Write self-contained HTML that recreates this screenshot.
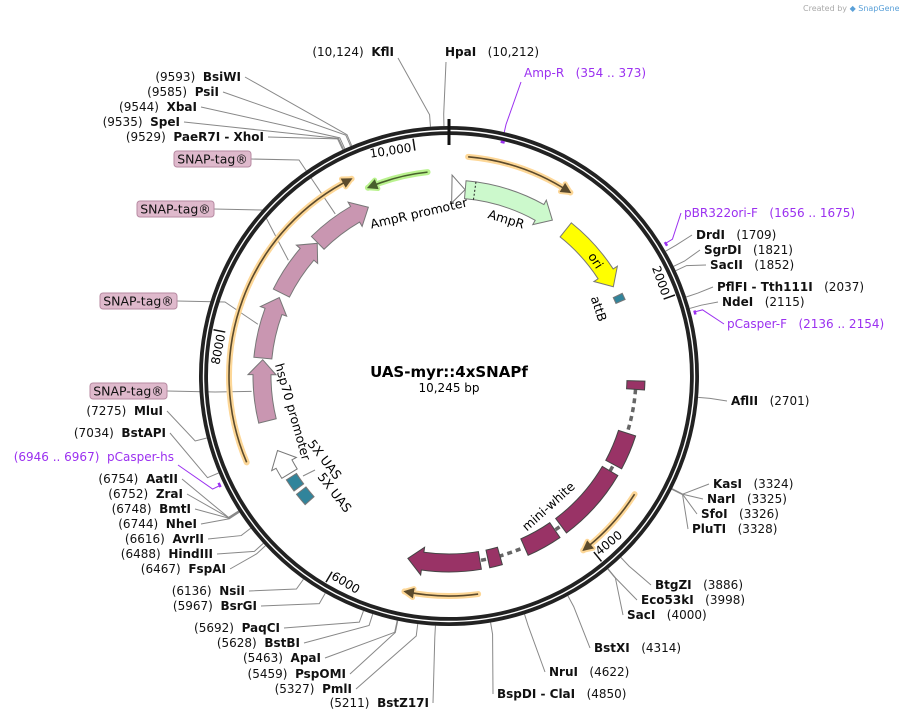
<!DOCTYPE html>
<html><head><meta charset="utf-8">
<style>
html,body{margin:0;padding:0;background:#fff;}
svg{display:block;font-family:"DejaVu Sans","Liberation Sans",sans-serif;}
</style></head>
<body>
<svg id="map" width="899" height="721" viewBox="0 0 899 721" xmlns="http://www.w3.org/2000/svg">
<rect width="899" height="721" fill="#fff"/>
<text x="803" y="11" font-size="8" fill="#aaa">Created by <tspan fill="#5aa0d8">◆ SnapGene</tspan></text>
<g id="lines"></g>
<g id="backbone"></g>
<g id="feats"></g>
<g id="labels"></g>
<text x="449" y="377" text-anchor="middle" font-size="15" font-weight="bold">UAS-myr::4xSNAPf</text>
<text x="449" y="392" text-anchor="middle" font-size="12">10,245 bp</text>
</svg>
<script>
// ---- data ----
const TOTAL = 10245;
const tickPositions = [2000, 4000, 6000, 8000, 10000];
const tickLabels = ["2000", "4000", "6000", "8000", "10,000"];
const featNames = ["AmpR promoter","AmpR","ori","attB","5X UAS a","5X UAS b","hsp70 promoter","SNAP-tag 1","SNAP-tag 2","SNAP-tag 3","SNAP-tag 4","mini-white exon1","mini-white exon2","mini-white exon3","mini-white exon4","mini-white exon5","mini-white exon6"];
const featStart = [25, 142, 1099, 1835, 6643, 6494, 6788, 7288, 7840, 8433, 8976, 2604, 3068, 3430, 4141, 4673, 4852];
const featEnd   = [140, 955, 1750, 1893, 6757, 6608, 7015, 7826, 8390, 8970, 9518, 2678, 3366, 4075, 4445, 4781, 5484];
const featDir   = [1, 1, 1, 0, 0, 0, 1, 1, 1, 1, 1, 0, 0, 0, 0, 0, 1];
const featFill  = ["#ffffff","#ccf9cc","#ffff00","#31849b","#31849b","#31849b","#ffffff","#c996b1","#c996b1","#c996b1","#c996b1","#993366","#993366","#993366","#993366","#993366","#993366"];
const orfStart = [142, 9582, 7026, 3486, 4906];
const orfEnd   = [953, 10074, 9497, 4053, 5455];
const orfDir   = [1, -1, 1, 1, 1];
const orfColor = ["orange","green","orange","orange","orange"];
const enzNames = ["KflI","HpaI","BsiWI","PsiI","XbaI","SpeI","PaeR7I  - XhoI","DrdI","SgrDI","SacII","PflFI  - Tth111I","NdeI","AflII","KasI","NarI","SfoI","PluTI","BtgZI","Eco53kI","SacI","BstXI","NruI","BspDI  - ClaI","BstZ17I","PmlI","PspOMI","ApaI","BstBI","PaqCI","BsrGI","NsiI","FspAI","HindIII","AvrII","NheI","BmtI","ZraI","AatII","BstAPI","MluI"];
const enzPos = [10124,10212,9593,9585,9544,9535,9529,1709,1821,1852,2037,2115,2701,3324,3325,3326,3328,3886,3998,4000,4314,4622,4850,5211,5327,5459,5463,5628,5692,5967,6136,6467,6488,6616,6744,6748,6752,6754,7034,7275];
const primerNames = ["Amp-R","pBR322ori-F","pCasper-F","pCasper-hs"];
const primerStart = [354, 1656, 2136, 6946];
const primerEnd   = [373, 1675, 2154, 6967];

// ---- layout (not data) ----
const enzLayout = {
 "KflI":[394,56,"L"],"HpaI":[445,56,"R"],"BsiWI":[241,81,"L"],"PsiI":[219,96,"L"],"XbaI":[197,111,"L"],"SpeI":[180,126,"L"],"PaeR7I  - XhoI":[264,141,"L"],
 "DrdI":[696,239,"R"],"SgrDI":[704,254,"R"],"SacII":[710,269,"R"],"PflFI  - Tth111I":[717,291,"R"],"NdeI":[722,306,"R"],"AflII":[731,405,"R"],
 "KasI":[713,488,"R"],"NarI":[707,503,"R"],"SfoI":[701,518,"R"],"PluTI":[692,533,"R"],"BtgZI":[655,589,"R"],"Eco53kI":[641,604,"R"],"SacI":[627,619,"R"],
 "BstXI":[594,652,"R"],"NruI":[549,676,"R"],"BspDI  - ClaI":[497,698,"R"],
 "BstZ17I":[429,707,"L"],"PmlI":[352,693,"L"],"PspOMI":[346,678,"L"],"ApaI":[321,662,"L"],"BstBI":[300,647,"L"],"PaqCI":[280,632,"L"],
 "BsrGI":[257,610,"L"],"NsiI":[245,595,"L"],"FspAI":[226,573,"L"],"HindIII":[213,558,"L"],"AvrII":[204,543,"L"],"NheI":[197,528,"L"],"BmtI":[191,513,"L"],
 "ZraI":[183,498,"L"],"AatII":[178,483,"L"],"BstAPI":[166,437,"L"],"MluI":[163,415,"L"]
};
const primerLayout = {"Amp-R":[524,77,"R"],"pBR322ori-F":[684,217,"R"],"pCasper-F":[727,328,"R"],"pCasper-hs":[174,461,"L"]};

const NS="http://www.w3.org/2000/svg";
const CX=449, CY=376;
function ang(bp){return bp/TOTAL*360;}
function P(a,r){const t=a*Math.PI/180;return [CX+r*Math.sin(t), CY-r*Math.cos(t)];}
function f(p){return p[0].toFixed(2)+","+p[1].toFixed(2);}
function fmt(n){return n>=10000?n.toLocaleString('en-US'):String(n);}
function el(tag,attrs,parent){const e=document.createElementNS(NS,tag);for(const k in attrs)e.setAttribute(k,attrs[k]);parent.appendChild(e);return e;}
const gLines=document.getElementById('lines'),gBack=document.getElementById('backbone'),gFeat=document.getElementById('feats'),gLab=document.getElementById('labels');

function arcD(a0,a1,r){const big=(a1-a0)>180?1:0;return "M"+f(P(a0,r))+" A"+r+","+r+" 0 "+big+" 1 "+f(P(a1,r));}

let c1=el('circle',{cx:CX,cy:CY,r:245.5,fill:'none',stroke:'#222','stroke-width':9},gBack);


let c2=el('circle',{cx:CX,cy:CY,r:245.5,fill:'none',stroke:'#fff','stroke-width':1.4},gBack);


let t0=el('line',{x1:CX,y1:CY-257,x2:CX,y2:CY-231,stroke:'#111','stroke-width':3},gBack);



tickPositions.forEach((bp,i)=>{
 const a=ang(bp);const p1=P(a,240),p2=P(a,228);
 const ln=el('line',{x1:p1[0],y1:p1[1],x2:p2[0],y2:p2[1],stroke:'#111','stroke-width':1.5},gBack);
 
 
 const lp=P(a,231);
 const bottom=(a>90&&a<270);
 const rot=bottom?a-180:(a>180?a-360:a);
 const tx=el('text',{x:lp[0],y:lp[1],'font-size':12,'text-anchor':bottom?'start':'end','dominant-baseline':'middle',transform:`rotate(${rot} ${lp[0]} ${lp[1]})`},gBack);
 tx.textContent=tickLabels[i];
 
 
 tx.setAttribute('dx',bottom?'2':'-3');
});

orfStart.forEach((s,i)=>{
 const a0=ang(s),a1=ang(orfEnd[i]);const r=(orfColor[i]==='green')?205:220;
 const halo=orfColor[i]==='green'?'#b9f28e':'#fdd797';
 const core=orfColor[i]==='green'?'#48602c':'#5b4a2c';
 const g=el('g',{},gFeat);
 
 
 el('path',{d:arcD(a0,a1,r),fill:'none',stroke:halo,'stroke-width':6,'stroke-linecap':'round'},g);
 el('path',{d:arcD(a0,a1,r),fill:'none',stroke:core,'stroke-width':1.6},g);
 const tipA=orfDir[i]===1?a1:a0, sgn=orfDir[i]===1?-1:1;
 const hd=9/r*180/Math.PI;
 const tip=P(tipA,r),b1=P(tipA+sgn*hd,r+4.5),b2=P(tipA+sgn*hd,r-4.5);
 el('path',{d:"M"+f(b1)+" L"+f(tip)+" L"+f(b2),fill:'none',stroke:halo,'stroke-width':5,'stroke-linejoin':'round','stroke-linecap':'round'},g);
 el('path',{d:"M"+f(b1)+" L"+f(tip)+" L"+f(b2)+"Z",fill:core,stroke:core,'stroke-width':1},g);
});

function featPath(a0,a1,r,w,dir){
 const ro=r+w/2,ri=r-w/2,h=15/r*180/Math.PI;
 if(dir===1){const ab=Math.max(a0,a1-h);
  return "M"+f(P(a0,ro))+" A"+ro+","+ro+" 0 0 1 "+f(P(ab,ro))+" L"+f(P(ab,ro+5))+" L"+f(P(a1,r))+" L"+f(P(ab,ri-5))+" L"+f(P(ab,ri))+" A"+ri+","+ri+" 0 0 0 "+f(P(a0,ri))+" Z";}
 return "M"+f(P(a0,ro))+" A"+ro+","+ro+" 0 0 1 "+f(P(a1,ro))+" L"+f(P(a1,ri))+" A"+ri+","+ri+" 0 0 0 "+f(P(a0,ri))+" Z";
}
const introns=el('path',{d:arcD(ang(featEnd[11]),ang(featStart[16]),187),fill:'none',stroke:'#666','stroke-width':3.5,'stroke-dasharray':'5,4'},gFeat);


featStart.forEach((s,i)=>{
 const isMini=featNames[i].startsWith('mini');
 const w=isMini?18:(featNames[i]==='attB'?10:(featNames[i].startsWith('5X')?12:18));
 const p=el('path',{d:featPath(ang(s),ang(featEnd[i]),187,w,featDir[i]),fill:featFill[i],stroke:isMini?'#444':'#777','stroke-width':1},gFeat);
 
 
});
const sp=P(ang(225),196),sp2=P(ang(225),178);
const sig=el('line',{x1:sp[0],y1:sp[1],x2:sp2[0],y2:sp2[1],stroke:'#222','stroke-width':1,'stroke-dasharray':'2,2'},gFeat);



function labelText(x,y,side,name,pos,color,bold){
 const t=el('text',{x:x,y:y,'font-size':12,'text-anchor':side==='L'?'end':'start',fill:color},gLab);
 const a=document.createElementNS(NS,'tspan'),b=document.createElementNS(NS,'tspan');
 if(bold)b.setAttribute('font-weight','bold');
 b.textContent=name; a.textContent=pos;
 const s=document.createElementNS(NS,'tspan');
 if(side==='L'){s.textContent='\u00a0\u00a0';t.appendChild(a);t.appendChild(s);t.appendChild(b);}
 else{s.textContent='\u00a0\u00a0\u00a0';t.appendChild(b);t.appendChild(s);t.appendChild(a);}
 return t;
}
function leader(bp,anchor,color,r0){
 const a=ang(bp);const p1=P(a,r0),p2=P(a,r0+12);
 return el('path',{d:"M"+f(p1)+" L"+f(p2)+" L"+anchor[0].toFixed(1)+","+anchor[1].toFixed(1),fill:'none',stroke:color,'stroke-width':1},gLines);
}
enzNames.forEach((n,i)=>{
 const L=enzLayout[n];const pos='('+fmt(enzPos[i])+')';
 const t=labelText(L[0],L[1],L[2],n,pos,'#111',true);
 
 
 let anchor;
 if(n==='HpaI')anchor=[446,62];else if(n==='KflI')anchor=[398,58];
 else anchor=L[2]==='L'?[L[0]+4,L[1]-4]:[L[0]-4,L[1]-4];
 const ln=leader(enzPos[i],anchor,'#888',250);
 
 
});
primerNames.forEach((n,i)=>{
 const L=primerLayout[n];const pos='('+primerStart[i]+' .. '+primerEnd[i]+')';
 const t=labelText(L[0],L[1],L[2],n,pos,'#9b30f0',false);
 
 
 const inner=(n==='Amp-R');const r=inner?240:254;
 const a0=ang(primerStart[i]),a1=ang(primerEnd[i]);
 const m=el('path',{d:arcD(a0,a1+0.3,r),fill:'none',stroke:'#9b30f0','stroke-width':2.5},gFeat);
 
 
 const anchor=n==='Amp-R'?[521,82]:(L[2]==='L'?[L[0]+4,L[1]+4]:[L[0]-3,L[1]-4]);
 const am=ang((primerStart[i]+primerEnd[i])/2);const p1=P(am,r+(inner?2:1)),p2=P(am,inner?258:262);
 const ln=el('path',{d:"M"+f(p1)+" L"+f(p2)+" L"+anchor[0]+","+anchor[1],fill:'none',stroke:'#9b30f0','stroke-width':1},gLines);
 
 
});

const snapBoxes=[[174,151,7,10],[137,201,8,9],[100,293,9,8],[90,383,10,7]];
snapBoxes.forEach((b,k)=>{
 const g=el('g',{},gLab);
 
 
 el('rect',{x:b[0],y:b[1],width:77,height:16,rx:3,fill:'#dfb9cc',stroke:'#b78aa2','stroke-width':1},g);
 const t=el('text',{x:b[0]+38.5,y:b[1]+12.5,'font-size':12.5,'text-anchor':'middle',fill:'#111'},g);
 t.textContent='SNAP-tag®';
 const fi=b[3];const am=ang((featStart[fi]+featEnd[fi])/2);const pt=P(am,198);
 const ln=el('path',{d:"M"+(b[0]+77)+","+(b[1]+8)+" L"+(b[0]+125)+","+(b[1]+9)+" L"+f(pt),fill:'none',stroke:'#888','stroke-width':1},gLines);
 
 
});

const flabs=[["AmpR promoter",419,214,-13,"ampr-promoter-label"],["AmpR",506,220,17,"ampr-label"],["ori",595,261,57,"ori-label"],["attB",598,309,72,"attb-label"],
 ["mini-white",549,507,-42,"mini-white-label"],["hsp70 promoter",292,412,74,"hsp70-promoter-label"],["5X UAS",324,460,52,"uas-label-1"],["5X UAS",334,493,52,"uas-label-2"]];
flabs.forEach(l=>{
 const t=el('text',{x:l[1],y:l[2],'font-size':12.5,'text-anchor':'middle','dominant-baseline':'middle',transform:`rotate(${l[3]} ${l[1]} ${l[2]})`},gLab);
 t.textContent=l[0];
 
 
});
const us=el('line',{x1:303,y1:476,x2:315,y2:470,stroke:'#888','stroke-width':1},gLines);


</script>
</body></html>
